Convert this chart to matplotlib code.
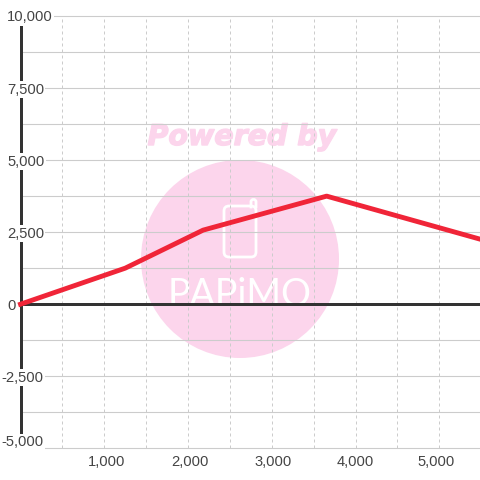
import matplotlib
matplotlib.use('Agg')
import matplotlib.pyplot as plt
import matplotlib.patheffects as pe
from matplotlib.patches import Circle, FancyBboxPatch

# values
line_x = [0, 1250, 2180, 3655, 5486]
line_y = [0, 1250, 2570, 3750, 2257]
x_ticks = [1000, 2000, 3000, 4000, 5000]
x_labels = ['1,000', '2,000', '3,000', '4,000', '5,000']
x_minor = [500, 1500, 2500, 3500, 4500]
y_ticks = [-5000, -2500, 0, 2500, 5000, 7500, 10000]
y_labels = ['-5,000', '-2,500', '0', '2,500', '5,000', '7,500', '10,000']
y_minor = [-3750, -1250, 1250, 3750, 6250, 8750]

plt.rcParams['font.family'] = ['Liberation Sans', 'DejaVu Sans']

PX = 0.72  # points per pixel at dpi 100
label_color = '#444444'
label_size = 10.6

fig = plt.figure(figsize=(4.8, 4.8), dpi=100)
ax = fig.add_axes([20.5 / 480, 1 - 448.3 / 480, 459.5 / 480, 432.3 / 480])
ax.set_xlim(0, 5486)
ax.set_ylim(-5000, 10000)

# watermark goes in its own full figure axes, in pixels
bg = fig.add_axes([0, 0, 1, 1], zorder=-1)
bg.set_xlim(0, 480)
bg.set_ylim(480, 0)
bg.axis('off')
pink = '#fcd5ec'
bg.add_patch(Circle((240, 259), 99, color=pink, lw=0))
bg.text(242, 145, 'Powered by', color=pink, fontsize=20.5, fontweight='bold',
        fontstyle='italic', ha='center', va='baseline', family='DejaVu Sans',
        path_effects=[pe.withStroke(linewidth=1, foreground=pink)])
bg.add_patch(FancyBboxPatch((224, 206), 32, 51, boxstyle='round,pad=0,rounding_size=5',
                            fc='none', ec='white', lw=2))
bg.plot([251, 251, 252.5, 254.5, 256, 256], [207, 201, 199.5, 199.5, 201, 207],
        color='white', lw=2)
bg.text(240, 306, 'PAPiMO', color='white', fontsize=27, ha='center', va='baseline',
        family='Lato')

ax.patch.set_alpha(0)
for name in ['top', 'right', 'bottom']:
    ax.spines[name].set_visible(False)
ax.spines['left'].set_color('#333333')
ax.spines['left'].set_linewidth(2.16)
ax.spines['left'].set_zorder(2)
ax.axhline(0, color='#333333', lw=2.16, zorder=2.2)

ax.set_xticks(x_ticks)
ax.set_xticks(x_minor, minor=True)
ax.set_yticks(y_ticks)
ax.set_yticks(y_minor, minor=True)
ax.tick_params(which='both', length=0, labelbottom=False, labelleft=False)
ax.grid(True, axis='y', which='both', color='#cccccc', lw=0.8)
ax.grid(True, axis='x', which='both', color='#cccccc', lw=0.72, ls=(0, (3, 3)))
for gl in ax.get_ygridlines():
    gl.set_clip_on(False)

# y labels sit on the axis line with a white box that breaks it
for val, lab in zip(y_ticks, y_labels):
    neg = lab.startswith('-')
    dx = 23 if neg else -13.5
    dy = 6 if val == y_ticks[0] else -1.5
    ax.annotate(lab, xy=(0, val), xycoords=('axes fraction', 'data'),
                xytext=(dx * PX, dy * PX), textcoords='offset points',
                ha='right' if neg else 'left', va='center', fontsize=label_size,
                color=label_color, zorder=3, annotation_clip=False,
                bbox=dict(fc='white', ec='none', pad=1))

# x labels are not quite under their grid lines
for val, lab, shift in zip(x_ticks, x_labels, [2.4, 1.5, 1.5, 0, -3]):
    ax.annotate(lab, xy=(val, 0), xycoords=('data', 'axes fraction'),
                xytext=(shift * PX, -13.5 * PX), textcoords='offset points',
                ha='center', va='center', fontsize=label_size,
                color=label_color, annotation_clip=False)

ax.plot(line_x, line_y, color='#f02538', lw=3.5, zorder=5, solid_joinstyle='round',
        clip_on=False)

fig.savefig('out.png', dpi=100)
